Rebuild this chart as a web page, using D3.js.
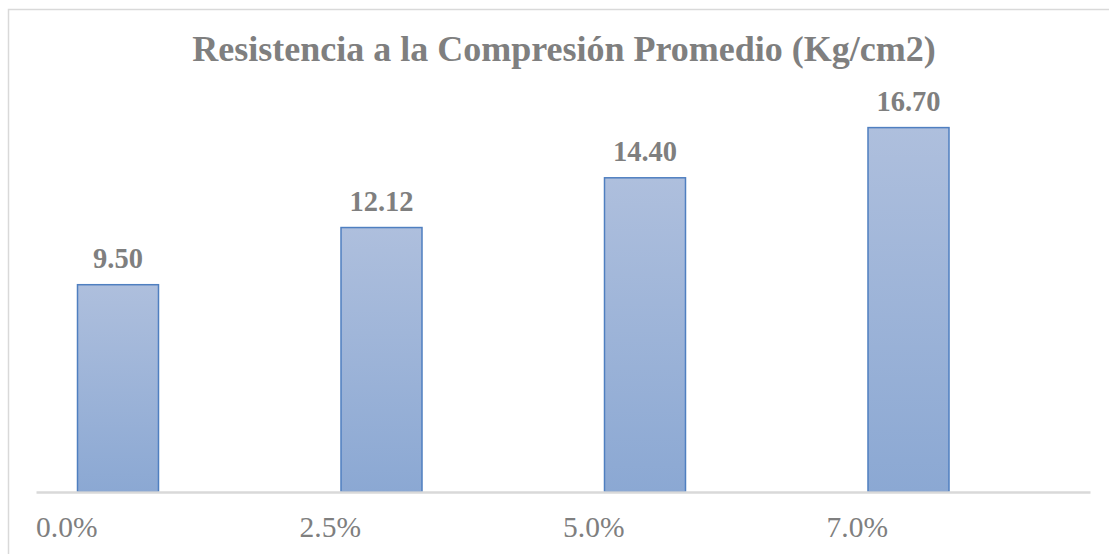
<!DOCTYPE html>
<html>
<head>
<meta charset="utf-8">
<script src="https://cdn.jsdelivr.net/npm/d3@7"></script>
<style>
  body { margin: 0; background: #fff; }
  text { font-family: "Liberation Serif", "Times New Roman", serif; fill: #7f7f7f; }
</style>
</head>
<body>
<div id="chart"></div>
<script>
// data
var categories = ["0.0%", "2.5%", "5.0%", "7.0%"];
var values = [9.50, 12.12, 14.40, 16.70];
var title = "Resistencia a la Compresión Promedio (Kg/cm2)";

var W = 1109, H = 554;

var svg = d3.select("#chart")
  .append("svg")
    .attr("width", W)
    .attr("height", H);

// gradient for the bars
var grad = svg.append("defs").append("linearGradient")
    .attr("id", "barGrad")
    .attr("x1", 0).attr("y1", 0).attr("x2", 0).attr("y2", 1);
grad.append("stop").attr("offset", "0%").attr("stop-color", "#aebfdd");
grad.append("stop").attr("offset", "100%").attr("stop-color", "#8ba8d3");

// chart border (left and top visible)
svg.append("rect")
    .attr("x", 8.5).attr("y", 9.5)
    .attr("width", W + 20).attr("height", H + 20)
    .attr("fill", "none")
    .attr("stroke", "#d9d9d9")
    .attr("stroke-width", 1.5);

// title
svg.append("text")
    .attr("x", 564)
    .attr("y", 61)
    .attr("text-anchor", "middle")
    .attr("font-size", "36px")
    .attr("font-weight", "bold")
    .text(title);

// scales
var x = d3.scaleBand()
    .domain(categories)
    .range([36, 1090]);

var y = d3.scaleLinear()
    .domain([0, 20])
    .range([492, 55.6]);

var barW = 81;

// bars
svg.append("g")
  .selectAll("rect")
  .data(values)
  .enter()
  .append("rect")
    .attr("x", (d, i) => x(categories[i]) + 41.5)
    .attr("y", d => y(d))
    .attr("width", barW)
    .attr("height", d => y(0) - y(d))
    .attr("fill", "url(#barGrad)")
    .attr("stroke", "#4f7fc0")
    .attr("stroke-width", 1.5);

// value labels
svg.append("g")
  .selectAll("text")
  .data(values)
  .enter()
  .append("text")
    .attr("x", (d, i) => x(categories[i]) + 41.5 + barW / 2)
    .attr("y", d => y(d) - 17)
    .attr("text-anchor", "middle")
    .attr("font-size", "28.5px")
    .attr("font-weight", "bold")
    .text(d => d.toFixed(2));

// x axis
var xAxis = svg.append("g")
    .attr("transform", "translate(0,492)")
    .call(d3.axisBottom(x).tickSize(0).tickFormat(""));
xAxis.select(".domain")
    .attr("stroke", "#d9d9d9")
    .attr("stroke-width", 2.5);

svg.append("g")
  .selectAll("text")
  .data(categories)
  .enter()
  .append("text")
    .attr("x", d => x(d))
    .attr("y", 537)
    .attr("text-anchor", "start")
    .attr("font-size", "29.5px")
    .text(d => d);
</script>
</body>
</html>
